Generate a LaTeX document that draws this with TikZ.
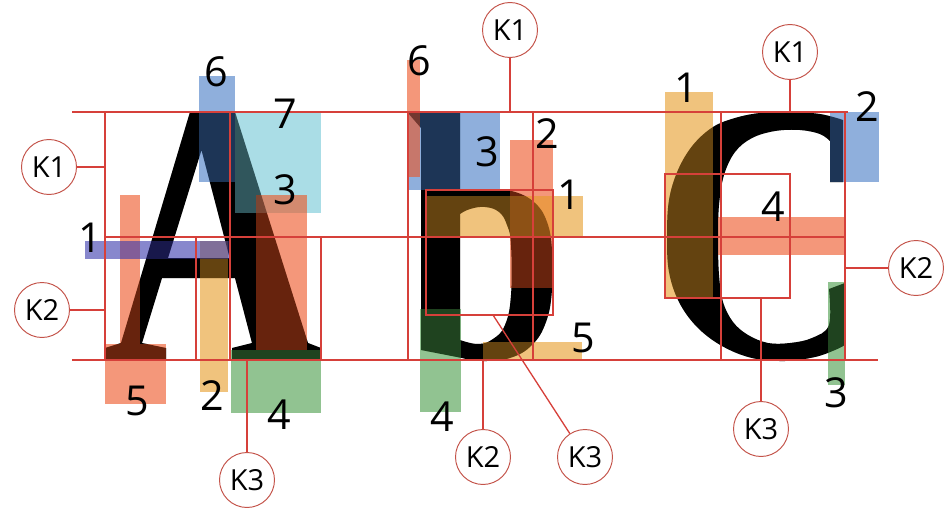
\documentclass[tikz,border=0pt]{standalone}
\usepackage{fontspec}
\setmainfont{Open Sans}
\usetikzlibrary{positioning}

\definecolor{guidered}{RGB}{214,64,58}
\definecolor{ringred}{RGB}{196,84,74}
\definecolor{hlblue}{RGB}{68,122,197}
\definecolor{hlcyan}{RGB}{113,198,213}
\definecolor{hlsalmon}{RGB}{237,82,33}
\definecolor{hltan}{RGB}{230,155,38}
\definecolor{hlpurple}{RGB}{55,55,172}
\definecolor{hlgreen}{RGB}{72,155,72}

\begin{document}
\begin{tikzpicture}[x=0.02cm, y=-0.02cm,
  glyph/.style={fill=black, even odd rule},
  shadeglyph/.style={fill=black, fill opacity=0.27, even odd rule},
  hl/.style={fill=#1, fill opacity=0.6},
  guideline/.style={draw=guidered, line width=0.75pt},
  ring/.style={circle, draw=ringred, line width=0.55pt, fill=white, minimum size=1.1cm, inner sep=0pt, font=\fontsize{16.5}{18}\selectfont},
  num/.style={inner sep=0pt, font=\fontsize{23.5}{24}\selectfont}
]
  \useasboundingbox (0,0) rectangle (944,514);

  % letters
  \path[save path=\glyphA] (105,360) -- (105,348) -- (121,343) -- (190,112) -- (235,112) -- (308,343) -- (321,348) -- (321,360)
    -- (232,360) -- (232,348) -- (252,343) -- (235,278) -- (162,278) -- (142,343) -- (166,348) -- (166,360) -- cycle
    (201.5,150) -- (229.7,258) -- (168,258) -- cycle;
  \path[save path=\glyphB] (408,113) -- (460,112) -- (460,191)
    -- plot[smooth, tension=0.7] coordinates {(460,191) (490,189) (515,192) (535,203) (547,222) (552,250) (552,290) (546,322) (532,345) (510,358) (483,361) (462,358)}
    -- (421,350) -- (421,128) -- cycle
    (460,214) -- plot[smooth, tension=0.7] coordinates {(460,214) (470,209) (485,207) (499,212) (507,225) (511,245) (511,295) (505,325) (493,339) (478,344) (460,340)} -- cycle;
  \path[save path=\glyphC] (843,120)
    -- plot[smooth, tension=0.6] coordinates {(843,120) (820,114) (790,112) (760,113) (735,118) (713,127) (693,145) (678,170) (669,200) (667,237) (669,272) (679,302) (697,327) (722,346) (752,358) (785,361) (815,357) (835,350) (845,345)}
    -- (845,283) -- (829,289)
    -- plot[smooth, tension=0.6] coordinates {(829,289) (829,325) (812,338) (790,343) (768,343) (748,335) (733,322) (723,302) (719,275) (718,240) (719,205) (724,175) (735,152) (752,138) (775,131) (800,130) (820,134) (830,141)}
    -- (830,182) -- (843,182) -- cycle;
  \fill[glyph, use path=\glyphA];
  \fill[glyph, use path=\glyphB];
  \fill[glyph, use path=\glyphC];

  % highlights
  \fill[hl=hlblue] (199,76) rectangle (235,182);
  \fill[hl=hlcyan] (235,112) rectangle (321,213);
  \fill[hl=hlsalmon] (256,195) rectangle (307,350);
  \fill[hl=hlsalmon] (120,195) rectangle (140,344);
  \fill[hl=hlsalmon] (105,344) rectangle (166,404);
  \fill[hl=hltan] (200,241) rectangle (228,392);
  \fill[hl=hlpurple] (85,241) rectangle (230,259);
  \fill[hl=hlgreen] (231,350) rectangle (321,413);

  \fill[hl=hlblue] (408,112) rectangle (500,190);
  \fill[hl=hlsalmon] (407,60) rectangle (420,177);
  \fill[hl=hlsalmon] (510,140) rectangle (553,288);
  \fill[hl=hltan] (427,196) rectangle (583,237);
  \fill[hl=hltan] (483,342) rectangle (582,360);
  \fill[hl=hlgreen] (420,309) rectangle (461,412);

  \fill[hl=hltan] (665,92) rectangle (713,297);
  \fill[hl=hlblue] (830,112) rectangle (879,182);
  \fill[hl=hlsalmon] (718,217) rectangle (845,255);
  \fill[hl=hlgreen] (828,282) rectangle (845,385);

  \fill[shadeglyph, use path=\glyphA];
  \fill[shadeglyph, use path=\glyphB];
  \fill[shadeglyph, use path=\glyphC];

  % guides
  \draw[guideline] (72,112) -- (848,112);
  \draw[guideline] (105,237) -- (845,237);
  \draw[guideline] (72,360) -- (878,360);
  \draw[guideline] (105,112) -- (105,360) (230,112) -- (230,360) (196,237) -- (196,360) (321,237) -- (321,360);
  \draw[guideline] (408,112) rectangle (533,360) (426,190) rectangle (553,315);
  \draw[guideline] (721,112) rectangle (845,360) (665,174) rectangle (790,298);

  % numbers
  \node[num] (a6) at (216,72) {6};
  \node[num] (a7) at (285,114) {7};
  \node[num] (a3) at (285,190) {3};
  \node[num] (a1) at (90,238) {1};
  \node[num] (a5) at (137,401) {5};
  \node[num] (a2) at (212,396) {2};
  \node[num] (a4) at (279,415) {4};
  \node[num] (b6) at (419,61) {6};
  \node[num] (b3) at (487,152) {3};
  \node[num] (b2) at (547,134) {2};
  \node[num] (b1) at (569,195) {1};
  \node[num] (b5) at (583,338) {5};
  \node[num] (b4) at (442,417) {4};
  \node[num] (c1) at (686,88) {1};
  \node[num] (c2) at (867,107) {2};
  \node[num] (c4) at (773,207) {4};
  \node[num] (c3) at (836,393) {3};

  % keys
  \node[ring] (kA1) at (49,167) {K1};
  \node[ring] (kA2) at (42,310) {K2};
  \node[ring] (kA3) at (247,480) {K3};
  \node[ring] (kB1) at (510,30) {K1};
  \node[ring] (kB2) at (483,457) {K2};
  \node[ring] (kB3) at (585,457) {K3};
  \node[ring] (kC1) at (790,52) {K1};
  \node[ring] (kC2) at (916,268) {K2};
  \node[ring] (kC3) at (761,429) {K3};

  \coordinate (kA1-at) at (105,167);
  \coordinate (kA2-at) at (105,310);
  \coordinate (kA3-at) at (247,360);
  \coordinate (kB1-at) at (510,112);
  \coordinate (kB2-at) at (483,360);
  \coordinate (kB3-at) at (493,315);
  \coordinate (kC1-at) at (790,112);
  \coordinate (kC2-at) at (845,268);
  \coordinate (kC3-at) at (761,298);

  \draw[guideline] (kA1) -- (kA1-at);
  \draw[guideline] (kA2) -- (kA2-at);
  \draw[guideline] (kA3) -- (kA3-at);
  \draw[guideline] (kB1) -- (kB1-at);
  \draw[guideline] (kB2) -- (kB2-at);
  \draw[guideline] (kB3) -- (kB3-at);
  \draw[guideline] (kC1) -- (kC1-at);
  \draw[guideline] (kC2) -- (kC2-at);
  \draw[guideline] (kC3) -- (kC3-at);
\end{tikzpicture}
\end{document}
